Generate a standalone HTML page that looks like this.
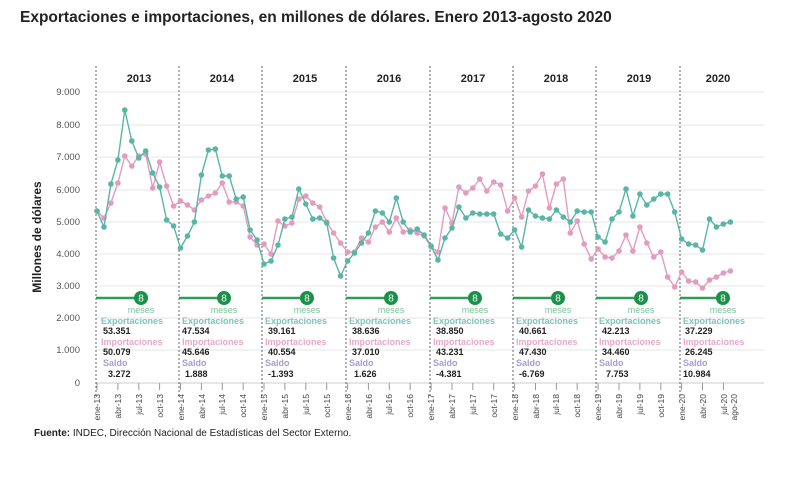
<!DOCTYPE html>
<html><head><meta charset="utf-8">
<style>
body{margin:0;background:#fff;width:800px;height:478px;overflow:hidden;font-family:"Liberation Sans",sans-serif}
svg text{font-family:"Liberation Sans",sans-serif}
</style></head><body>
<svg id="s" width="800" height="478" viewBox="0 0 800 478" xmlns="http://www.w3.org/2000/svg">
<text x="20" y="22" font-size="15.5" font-weight="bold" fill="#222">Exportaciones e importaciones, en millones de dólares. Enero 2013-agosto 2020</text>
<g stroke="#e4e4e4" stroke-width="1">
<line x1="96" x2="764" y1="92" y2="92"/><line x1="96" x2="764" y1="125" y2="125"/><line x1="96" x2="764" y1="157" y2="157"/><line x1="96" x2="764" y1="190" y2="190"/><line x1="96" x2="764" y1="222" y2="222"/><line x1="96" x2="764" y1="254" y2="254"/><line x1="96" x2="764" y1="286" y2="286"/><line x1="96" x2="764" y1="318" y2="318"/><line x1="96" x2="764" y1="350" y2="350"/><line x1="96" x2="764" y1="383" y2="383" stroke="#ccc"/>
</g>
<g font-size="9.5" fill="#555" text-anchor="end">
<text x="80" y="95">9.000</text><text x="80" y="128">8.000</text><text x="80" y="160">7.000</text><text x="80" y="193">6.000</text><text x="80" y="225">5.000</text><text x="80" y="257">4.000</text><text x="80" y="289">3.000</text><text x="80" y="321">2.000</text><text x="80" y="353">1.000</text><text x="80" y="386">0</text>
</g>
<text transform="translate(41,237) rotate(-90)" font-size="12" font-weight="bold" fill="#222" text-anchor="middle">Millones de dólares</text>
<g stroke="#666" stroke-width="1" stroke-dasharray="2,2">
<line x1="96" x2="96" y1="66" y2="396"/><line x1="179" x2="179" y1="66" y2="396"/><line x1="262" x2="262" y1="66" y2="396"/><line x1="346" x2="346" y1="66" y2="396"/><line x1="430" x2="430" y1="66" y2="396"/><line x1="513" x2="513" y1="66" y2="396"/><line x1="596" x2="596" y1="66" y2="396"/><line x1="680" x2="680" y1="66" y2="396"/>
</g>
<g font-size="11" font-weight="bold" fill="#222" text-anchor="middle">
<text x="139" y="82">2013</text><text x="222" y="82">2014</text><text x="305" y="82">2015</text><text x="389" y="82">2016</text><text x="473" y="82">2017</text><text x="556" y="82">2018</text><text x="639" y="82">2019</text><text x="718" y="82">2020</text>
</g>
<g id="series"></g>
<g id="blocks" font-size="9" font-weight="bold">
<g transform="translate(96,0)"><line x1="0" x2="45" y1="298" y2="298" stroke="#2e9e55" stroke-width="2.5"/><circle cx="45" cy="298" r="7" fill="#1a9148"/><text x="45" y="301.5" fill="#fff" text-anchor="middle" font-weight="normal" font-size="10">8</text><text x="45" y="313" fill="#7cc49a" text-anchor="middle" font-weight="normal">meses</text><text x="5" y="324" fill="#7cc4bb">Exportaciones</text><text x="7" y="334" fill="#222">53.351</text><text x="5" y="345" fill="#e8a9c6">Importaciones</text><text x="7" y="355" fill="#222">50.079</text><text x="7" y="366" fill="#a99ad6">Saldo</text><text x="12" y="377" fill="#222">3.272</text></g>
<g transform="translate(179,0)"><line x1="0" x2="45" y1="298" y2="298" stroke="#2e9e55" stroke-width="2.5"/><circle cx="45" cy="298" r="7" fill="#1a9148"/><text x="45" y="301.5" fill="#fff" text-anchor="middle" font-weight="normal" font-size="10">8</text><text x="45" y="313" fill="#7cc49a" text-anchor="middle" font-weight="normal">meses</text><text x="3" y="324" fill="#7cc4bb">Exportaciones</text><text x="3" y="334" fill="#222">47.534</text><text x="3" y="345" fill="#e8a9c6">Importaciones</text><text x="3" y="355" fill="#222">45.646</text><text x="3" y="366" fill="#a99ad6">Saldo</text><text x="6" y="377" fill="#222">1.888</text></g>
<g transform="translate(262,0)"><line x1="0" x2="45" y1="298" y2="298" stroke="#2e9e55" stroke-width="2.5"/><circle cx="45" cy="298" r="7" fill="#1a9148"/><text x="45" y="301.5" fill="#fff" text-anchor="middle" font-weight="normal" font-size="10">8</text><text x="45" y="313" fill="#7cc49a" text-anchor="middle" font-weight="normal">meses</text><text x="3" y="324" fill="#7cc4bb">Exportaciones</text><text x="6" y="334" fill="#222">39.161</text><text x="3" y="345" fill="#e8a9c6">Importaciones</text><text x="6" y="355" fill="#222">40.554</text><text x="3" y="366" fill="#a99ad6">Saldo</text><text x="6" y="377" fill="#222">-1.393</text></g>
<g transform="translate(346,0)"><line x1="0" x2="45" y1="298" y2="298" stroke="#2e9e55" stroke-width="2.5"/><circle cx="45" cy="298" r="7" fill="#1a9148"/><text x="45" y="301.5" fill="#fff" text-anchor="middle" font-weight="normal" font-size="10">8</text><text x="45" y="313" fill="#7cc49a" text-anchor="middle" font-weight="normal">meses</text><text x="3" y="324" fill="#7cc4bb">Exportaciones</text><text x="6" y="334" fill="#222">38.636</text><text x="3" y="345" fill="#e8a9c6">Importaciones</text><text x="6" y="355" fill="#222">37.010</text><text x="3" y="366" fill="#a99ad6">Saldo</text><text x="8" y="377" fill="#222">1.626</text></g>
<g transform="translate(430,0)"><line x1="0" x2="45" y1="298" y2="298" stroke="#2e9e55" stroke-width="2.5"/><circle cx="45" cy="298" r="7" fill="#1a9148"/><text x="45" y="301.5" fill="#fff" text-anchor="middle" font-weight="normal" font-size="10">8</text><text x="45" y="313" fill="#7cc49a" text-anchor="middle" font-weight="normal">meses</text><text x="3" y="324" fill="#7cc4bb">Exportaciones</text><text x="6" y="334" fill="#222">38.850</text><text x="3" y="345" fill="#e8a9c6">Importaciones</text><text x="6" y="355" fill="#222">43.231</text><text x="3" y="366" fill="#a99ad6">Saldo</text><text x="6" y="377" fill="#222">-4.381</text></g>
<g transform="translate(513,0)"><line x1="0" x2="45" y1="298" y2="298" stroke="#2e9e55" stroke-width="2.5"/><circle cx="45" cy="298" r="7" fill="#1a9148"/><text x="45" y="301.5" fill="#fff" text-anchor="middle" font-weight="normal" font-size="10">8</text><text x="45" y="313" fill="#7cc49a" text-anchor="middle" font-weight="normal">meses</text><text x="3" y="324" fill="#7cc4bb">Exportaciones</text><text x="6" y="334" fill="#222">40.661</text><text x="3" y="345" fill="#e8a9c6">Importaciones</text><text x="6" y="355" fill="#222">47.430</text><text x="3" y="366" fill="#a99ad6">Saldo</text><text x="6" y="377" fill="#222">-6.769</text></g>
<g transform="translate(596,0)"><line x1="0" x2="45" y1="298" y2="298" stroke="#2e9e55" stroke-width="2.5"/><circle cx="45" cy="298" r="7" fill="#1a9148"/><text x="45" y="301.5" fill="#fff" text-anchor="middle" font-weight="normal" font-size="10">8</text><text x="45" y="313" fill="#7cc49a" text-anchor="middle" font-weight="normal">meses</text><text x="3" y="324" fill="#7cc4bb">Exportaciones</text><text x="6" y="334" fill="#222">42.213</text><text x="3" y="345" fill="#e8a9c6">Importaciones</text><text x="6" y="355" fill="#222">34.460</text><text x="3" y="366" fill="#a99ad6">Saldo</text><text x="10" y="377" fill="#222">7.753</text></g>
<g transform="translate(680,0)"><line x1="0" x2="43" y1="298" y2="298" stroke="#2e9e55" stroke-width="2.5"/><circle cx="43" cy="298" r="7" fill="#1a9148"/><text x="43" y="301.5" fill="#fff" text-anchor="middle" font-weight="normal" font-size="10">8</text><text x="43" y="313" fill="#7cc49a" text-anchor="middle" font-weight="normal">meses</text><text x="3" y="324" fill="#7cc4bb">Exportaciones</text><text x="5" y="334" fill="#222">37.229</text><text x="3" y="345" fill="#e8a9c6">Importaciones</text><text x="5" y="355" fill="#222">26.245</text><text x="3" y="366" fill="#a99ad6">Saldo</text><text x="3" y="377" fill="#222">10.984</text></g>
</g>
<g font-size="8.5" fill="#444" text-anchor="end">
<text transform="translate(100,394) rotate(-90)">ene-13</text><text transform="translate(121,394) rotate(-90)">abr-13</text><text transform="translate(142,394) rotate(-90)">jul-13</text><text transform="translate(163,394) rotate(-90)">oct-13</text>
<text transform="translate(184,394) rotate(-90)">ene-14</text><text transform="translate(205,394) rotate(-90)">abr-14</text><text transform="translate(225,394) rotate(-90)">jul-14</text><text transform="translate(246,394) rotate(-90)">oct-14</text>
<text transform="translate(267,394) rotate(-90)">ene-15</text><text transform="translate(288,394) rotate(-90)">abr-15</text><text transform="translate(309,394) rotate(-90)">jul-15</text><text transform="translate(330,394) rotate(-90)">oct-15</text>
<text transform="translate(351,394) rotate(-90)">ene-16</text><text transform="translate(372,394) rotate(-90)">abr-16</text><text transform="translate(392,394) rotate(-90)">jul-16</text><text transform="translate(413,394) rotate(-90)">oct-16</text>
<text transform="translate(434,394) rotate(-90)">ene-17</text><text transform="translate(455,394) rotate(-90)">abr-17</text><text transform="translate(476,394) rotate(-90)">jul-17</text><text transform="translate(497,394) rotate(-90)">oct-17</text>
<text transform="translate(518,394) rotate(-90)">ene-18</text><text transform="translate(539,394) rotate(-90)">abr-18</text><text transform="translate(559,394) rotate(-90)">jul-18</text><text transform="translate(580,394) rotate(-90)">oct-18</text>
<text transform="translate(601,394) rotate(-90)">ene-19</text><text transform="translate(622,394) rotate(-90)">abr-19</text><text transform="translate(643,394) rotate(-90)">jul-19</text><text transform="translate(664,394) rotate(-90)">oct-19</text>
<text transform="translate(685,394) rotate(-90)">ene-20</text><text transform="translate(706,394) rotate(-90)">abr-20</text><text transform="translate(727,394) rotate(-90)">jul-20</text><text transform="translate(737,394) rotate(-90)">ago-20</text>
</g>
<text x="34" y="436" font-size="10" fill="#222"><tspan font-weight="bold">Fuente:</tspan> INDEC, Dirección Nacional de Estadísticas del Sector Externo.</text>
</svg>
<script>
var E=[211,227,184,160,110,141,158,151,173,187,220,226, 248,236,222,175,150,149,176,176,199,197,230,240, 264,261,245,219,217,189,204,219,218,223,258,276, 261,253,243,233,211,213,222,198,222,232,229,235, 246,260,238,228,207,218,213,214,214,214,234,238, 230,247,210,216,218,219,210,217,222,211,212,212, 237,242,219,212,189,216,194,205,199,194,194,212, 239,244,245,250,219,227,224,222];
var I=[211,218,203,183,156,166,156,154,188,162,186,206, 201,205,210,200,196,193,183,202,202,206,237,245, 244,254,221,226,223,199,196,203,207,222,233,243, 252,252,238,242,227,222,232,218,232,230,233,236, 247,252,208,223,187,193,188,179,191,182,185,211, 198,217,191,186,174,208,184,179,233,221,244,259, 249,257,258,251,235,251,227,243,257,252,277,287, 272,281,282,288,280,277,273,271];
var g=document.getElementById('series'),h='';
function ser(a,c){var p=a.map(function(y,i){return (97+i*6.96).toFixed(1)+','+y}).join(' ');
h+='<polyline points="'+p+'" fill="none" stroke="'+c+'" stroke-width="1.4"/>';
a.forEach(function(y,i){h+='<circle cx="'+(97+i*6.96).toFixed(1)+'" cy="'+y+'" r="2.8" fill="'+c+'"/>'});}
ser(I,'#e29cbf');ser(E,'#5bb5a6');
var t='';for(var i=0;i<92;i+=3){var x=(97+i*6.96).toFixed(1);t+='<line x1="'+x+'" x2="'+x+'" y1="383" y2="390" stroke="#999"/>'}
g.innerHTML=h+t;
</script>
</body></html>
